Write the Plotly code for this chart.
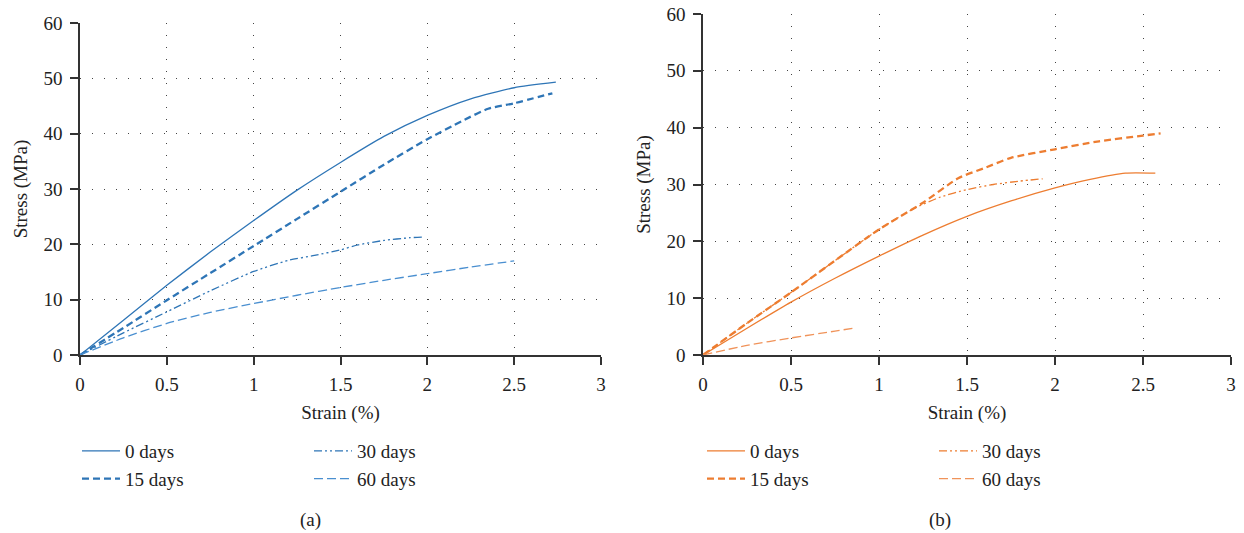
import plotly.graph_objects as go

# ---------------- data ----------------
# Panel (a)
a0_x = [0, 0.25, 0.5, 0.75, 1.0, 1.25, 1.5, 1.75, 2.0, 2.25, 2.5, 2.74]
a0_y = [0, 6.3, 12.6, 18.6, 24.3, 29.8, 34.8, 39.5, 43.3, 46.3, 48.3, 49.3]
a15_x = [0, 0.25, 0.5, 0.75, 1.0, 1.25, 1.5, 1.75, 2.0, 2.2, 2.35, 2.5, 2.72]
a15_y = [0, 4.9, 9.9, 14.8, 19.7, 24.6, 29.5, 34.4, 39.0, 42.3, 44.5, 45.5, 47.3]
a30_x = [0, 0.25, 0.5, 0.75, 1.0, 1.2, 1.35, 1.5, 1.6, 1.75, 1.9, 1.97]
a30_y = [0, 4.0, 7.8, 11.6, 15.1, 17.1, 18.0, 19.0, 19.9, 20.7, 21.2, 21.3]
a60_x = [0, 0.25, 0.5, 0.75, 1.0, 1.25, 1.5, 1.75, 2.0, 2.25, 2.5]
a60_y = [0, 3.1, 5.7, 7.7, 9.3, 10.8, 12.2, 13.5, 14.7, 15.9, 17.0]

# Panel (b)
b0_x = [0, 0.25, 0.5, 0.75, 1.0, 1.25, 1.5, 1.75, 2.0, 2.2, 2.4, 2.57]
b0_y = [0, 4.7, 9.3, 13.5, 17.4, 21.1, 24.4, 27.1, 29.4, 30.9, 32.0, 32.0]
b15_x = [0, 0.25, 0.5, 0.75, 1.0, 1.25, 1.45, 1.6, 1.75, 2.0, 2.25, 2.5, 2.6]
b15_y = [0, 5.6, 11.0, 16.6, 22.1, 26.8, 31.1, 32.9, 34.7, 36.2, 37.6, 38.6, 39.0]
b30_x = [0, 0.25, 0.5, 0.75, 1.0, 1.2, 1.35, 1.5, 1.65, 1.8, 1.93]
b30_y = [0, 5.6, 11.0, 16.6, 22.1, 25.8, 27.8, 29.1, 30.0, 30.6, 31.0]
b60_x = [0, 0.25, 0.5, 0.75, 0.87]
b60_y = [0, 1.7, 3.0, 4.2, 4.8]

labels = ["0 days", "15 days", "30 days", "60 days"]
captions = ["(a)", "(b)"]
x_title = "Strain (%)"
y_title = "Stress (MPa)"

# ---------------- styling ----------------
FONT = "Liberation Serif, Times New Roman, serif"
TXT = "#222222"
BLUE = "#2E75B6"
BLUE_L = "#4A8FD0"
ORANGE = "#ED7D31"
ORANGE_L = "#F0935A"

styles = [
    dict(width=1.3, dash="solid"),
    dict(width=2.3, dash="7px,4px"),
    dict(width=1.3, dash="8px,3px,2px,3px,2px,3px"),
    dict(width=1.3, dash="9px,4px"),
]

fig = go.Figure()

panel_a = [(a0_x, a0_y), (a15_x, a15_y), (a30_x, a30_y), (a60_x, a60_y)]
panel_b = [(b0_x, b0_y), (b15_x, b15_y), (b30_x, b30_y), (b60_x, b60_y)]
cols_a = [BLUE, BLUE, BLUE, BLUE_L]
cols_b = [ORANGE, ORANGE, ORANGE, ORANGE_L]
leg_a = ["legend", "legend", "legend2", "legend2"]
leg_b = ["legend3", "legend3", "legend4", "legend4"]

for i, (xs, ys) in enumerate(panel_a):
    fig.add_trace(go.Scatter(x=xs, y=ys, mode="lines", name=labels[i],
                             line=dict(color=cols_a[i], shape="spline", smoothing=0.6, **styles[i]),
                             xaxis="x", yaxis="y", legend=leg_a[i]))
for i, (xs, ys) in enumerate(panel_b):
    fig.add_trace(go.Scatter(x=xs, y=ys, mode="lines", name=labels[i],
                             line=dict(color=cols_b[i], shape="spline", smoothing=0.6, **styles[i]),
                             xaxis="x2", yaxis="y2", legend=leg_b[i]))

W, H = 1244, 533


def px_x(p):
    return p / W


def px_y(p):
    return 1 - p / H


axis_common = dict(
    showline=True, linecolor="#333", linewidth=1.5,
    ticks="outside", ticklen=8, tickwidth=1.5, tickcolor="#333",
    showgrid=True, gridcolor="#444", gridwidth=1.2, griddash="1px,11px",
    zeroline=False, automargin=False,
    tickfont=dict(family=FONT, size=19, color=TXT),
)
title_font = dict(family=FONT, size=19, color=TXT)

fig.update_layout(
    width=W, height=H,
    margin=dict(l=0, r=0, t=0, b=0, autoexpand=False),
    paper_bgcolor="white", plot_bgcolor="white",
    font=dict(family=FONT, color=TXT),
    xaxis=dict(domain=[px_x(80), px_x(601)], range=[0, 3], dtick=0.5, anchor="y",
               ticklabelstandoff=3,
               title=dict(text=x_title, font=title_font, standoff=12),
               **axis_common),
    yaxis=dict(domain=[px_y(355), px_y(23)], range=[0, 60], dtick=10, anchor="x",
               ticklabelstandoff=4,
               title=dict(text=y_title, font=title_font, standoff=11),
               **axis_common),
    xaxis2=dict(domain=[px_x(703), px_x(1231)], range=[0, 3], dtick=0.5, anchor="y2",
                ticklabelstandoff=3,
                title=dict(text=x_title, font=title_font, standoff=12),
                **axis_common),
    yaxis2=dict(domain=[px_y(355), px_y(14)], range=[0, 60], dtick=10, anchor="x2",
                ticklabelstandoff=4,
                title=dict(text=y_title, font=title_font, standoff=11),
                **axis_common),
)


def legend_at(xpx, ypx):
    return dict(x=px_x(xpx), y=px_y(ypx), xanchor="left", yanchor="top",
                orientation="v", bgcolor="rgba(0,0,0,0)",
                font=dict(family=FONT, size=19, color=TXT),
                itemwidth=38, tracegroupgap=0)


fig.update_layout(
    legend=legend_at(77, 432),
    legend2=legend_at(309, 432),
    legend3=legend_at(702, 432),
    legend4=legend_at(934, 432),
)

for cap, xc in zip(captions, [310, 940]):
    fig.add_annotation(text=cap, x=px_x(xc), y=px_y(520), xref="paper", yref="paper",
                       xanchor="center", yanchor="middle",
                       showarrow=False, font=dict(family=FONT, size=19, color=TXT))

fig.write_html("out.html", config={"displayModeBar": False},
               post_script="document.body.style.margin='0px';")
